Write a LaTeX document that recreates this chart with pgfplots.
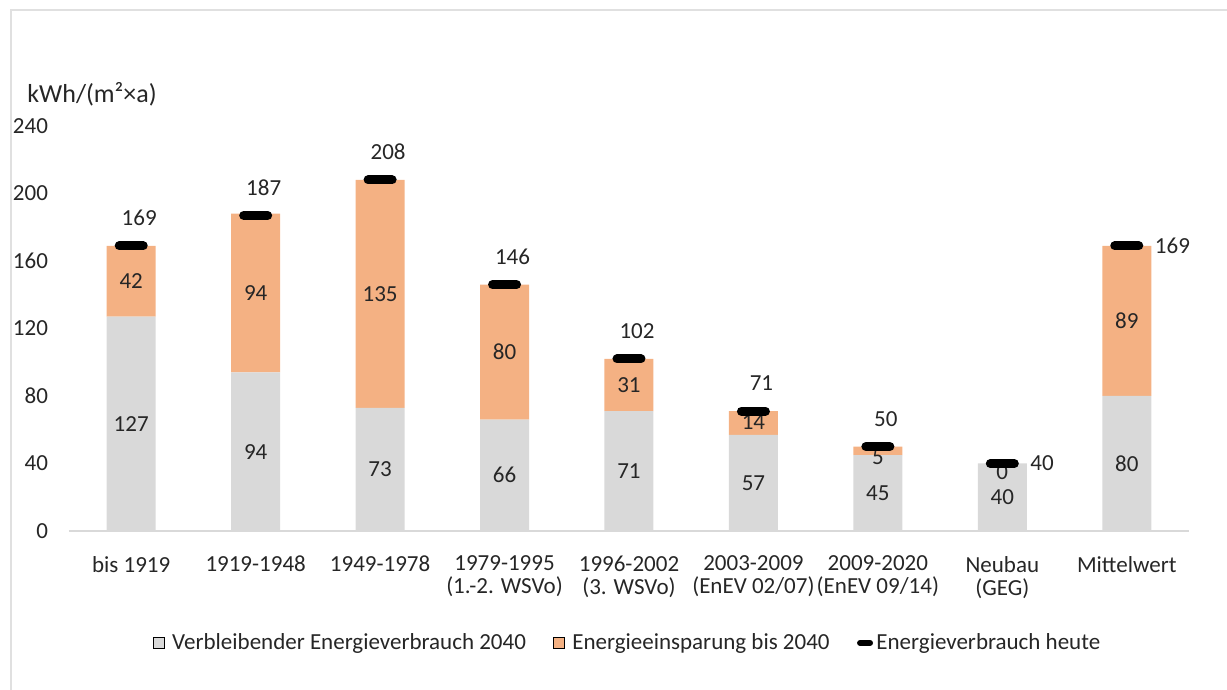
\documentclass[border=0pt]{standalone}
\usepackage{pgfplots}
\pgfplotsset{compat=1.18}
\usepackage{fontspec}
\setmainfont{Carlito}
\definecolor{grayb}{HTML}{D9D9D9}
\definecolor{orangeb}{HTML}{F4B183}
\definecolor{txt}{HTML}{262626}
\newcommand\f{\fontsize{11.5}{11.5}\selectfont}
\pgfplotsset{/pgf/number format/assume math mode=true,
  barleg/.style={legend image code/.code={\draw[##1] (0pt,-2.75pt) rectangle (5.5pt,2.75pt); \path (9.5pt,0pt);}},
  lineleg/.style={legend image code/.code={\draw[black, line width=3pt, line cap=round] (1.5pt,0pt) -- (6.5pt,0pt); \path (0pt,0pt) (9.5pt,0pt);}},
  lab/.style={draw=none, mark=none, nodes near coords, point meta=explicit symbolic,
    every node near coord/.append style={font=\f, text=txt, anchor=center, inner sep=0pt}}}
\begin{document}
\begin{tikzpicture}
\path[use as bounding box] (0,0) rectangle (613.5pt,345pt);
\draw[black!12, line width=1pt] (5.5pt,0) -- (5.5pt,340pt) -- (613.5pt,340pt);
\begin{axis}[
  at={(34.5pt,79.5pt)}, anchor=south west,
  scale only axis, width=560pt, height=202.5pt,
  ybar stacked, bar width=24.5pt,
  xmin=-0.5, xmax=8.5, ymin=0, ymax=240,
  ytick={0,40,...,240},
  xtick={0,...,8},
  xticklabels={bis 1919, 1919-1948, 1949-1978, {1979-1995\\(1.-2. WSVo)}, {1996-2002\\(3. WSVo)}, {2003-2009\\(EnEV 02/07)}, {2009-2020\\(EnEV 09/14)}, {Neubau\\(GEG)}, Mittelwert},
  xticklabel style={align=center, font=\f, text=txt, yshift=-9pt},
  yticklabel style={font=\f, text=txt, xshift=-7pt},
  axis lines*=left,
  x axis line style={draw=grayb, line width=0.8pt, -},
  y axis line style={draw=none},
  tick style={draw=none},
  legend columns=3,
  legend style={at={(0.4978,-0.2765)}, anchor=center, draw=none, font=\f, text=txt,
    nodes={inner sep=0pt},
    /tikz/every odd column/.append style={column sep=0pt},
    /tikz/every even column/.append style={column sep=13.5pt}},
]
\addplot[fill=grayb, draw=none, barleg]
  coordinates {(0,127) (1,94) (2,73) (3,66) (4,71) (5,57) (6,45) (7,40) (8,80)};
\addlegendentry{Verbleibender Energieverbrauch 2040}
\addplot[fill=orangeb, draw=none, barleg]
  coordinates {(0,42) (1,94) (2,135) (3,80) (4,31) (5,14) (6,5) (7,0) (8,89)};
\addlegendentry{Energieeinsparung bis 2040}
\addlegendimage{lineleg}
\addlegendentry{Energieverbrauch heute}
\end{axis}
\begin{axis}[
  at={(34.5pt,79.5pt)}, anchor=south west,
  scale only axis, width=560pt, height=202.5pt,
  xmin=-0.5, xmax=8.5, ymin=0, ymax=240,
  hide axis, clip=false,
]
% labels of the grey segments (centred)
\addplot[lab] coordinates {(0,63.5)[127] (1,47)[94] (2,36.5)[73] (3,33)[66] (4,35.5)[71] (5,28.5)[57] (6,22.5)[45] (7,20)[40] (8,40)[80]};
% labels of the orange segments (centred)
\addplot[lab] coordinates {(0,148)[42] (1,141)[94] (2,140.5)[135] (3,106)[80] (4,86.5)[31] (5,64.5)[14] (6,44)[5] (7,35)[0] (8,124.5)[89]};
\addplot[only marks, mark=-, mark size=6pt, mark options={line width=4.5pt, line cap=round, black},
  nodes near coords, every node near coord/.append style={font=\f, text=txt, anchor=center, shift={(4pt,14pt)}}]
  coordinates {(0,169) (1,187) (2,208) (3,146) (4,102) (5,71) (6,50)};
\addplot[only marks, mark=-, mark size=6pt, mark options={line width=4.5pt, line cap=round, black},
  nodes near coords, every node near coord/.append style={font=\f, text=txt, anchor=west, xshift=8.5pt}]
  coordinates {(7,40) (8,169)};
\end{axis}
\node[anchor=west, font=\fontsize{13}{13}\selectfont, text=txt, inner sep=0pt] at (13.5pt,298pt) {kWh/(m²×a)};
\end{tikzpicture}
\end{document}
